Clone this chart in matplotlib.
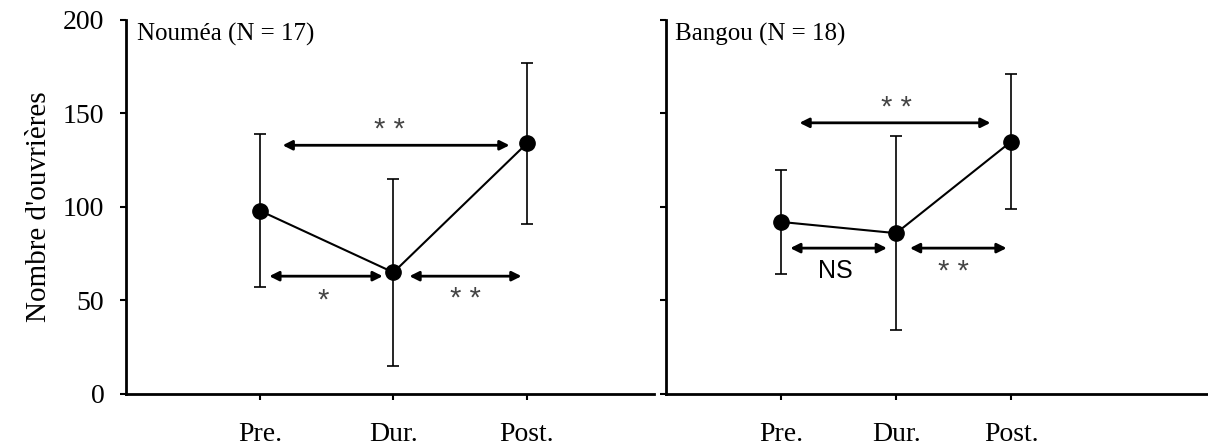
import matplotlib.pyplot as plt

plt.rcParams['font.family'] = ['Liberation Serif', 'DejaVu Serif']

periods = ['Pre.', 'Dur.', 'Post.']

noumea_mean = [98, 65, 134]
noumea_err = [41, 50, 43]
bangou_mean = [92, 86, 135]
bangou_err = [28, 52, 36]

# significance brackets: (x start, x end, y, label, label x, label y)
noumea_tests = [(1.17, 2.87, 133, '* *', 1.97, 141),
                (1.07, 1.92, 63, '*', 1.47, 50),
                (2.12, 2.96, 63, '* *', 2.54, 51)]
bangou_tests = [(1.16, 2.82, 145, '* *', 2.0, 153),
                (1.08, 1.92, 78, 'NS', 1.47, 66),
                (2.12, 2.96, 78, '* *', 2.5, 65)]


def draw_panel(ax, means, errs, tests, title, xmax, show_labels):
    x = [1, 2, 3]
    ax.errorbar(x, means, yerr=errs, fmt='o-', color='black', ms=11,
                lw=1.5, elinewidth=1.2, capsize=4, capthick=1.2, zorder=3)
    for x0, x1, y, lab, lx, ly in tests:
        ax.annotate('', xy=(x1, y), xytext=(x0, y),
                    arrowprops=dict(arrowstyle='<|-|>', color='black', lw=2,
                                    mutation_scale=14, shrinkA=0, shrinkB=0))
        if lab == 'NS':
            ax.text(lx, ly, lab, ha='center', va='center', fontsize=18,
                    family='Liberation Sans')
        else:
            ax.text(lx, ly, lab, ha='center', va='center', fontsize=21,
                    family='Liberation Sans', color='#444444')
    ax.text(0.08, 192, title, fontsize=18, va='center')
    ax.set_xlim(0, xmax)
    ax.set_ylim(0, 200)
    ax.set_xticks(x)
    ax.set_xticklabels(periods)
    ax.set_yticks([0, 50, 100, 150, 200])
    if not show_labels:
        ax.set_yticklabels([])
    ax.spines['top'].set_visible(False)
    ax.spines['right'].set_visible(False)
    ax.spines['left'].set_linewidth(2)
    ax.spines['bottom'].set_linewidth(2)
    ax.tick_params(axis='both', labelsize=20, width=1.5, length=4)
    ax.tick_params(axis='x', pad=16)
    ax.tick_params(axis='y', pad=12)


fig = plt.figure(figsize=(12.08, 4.47), dpi=100)
ax1 = fig.add_axes([0.1047, 0.1186, 0.4364, 0.8367])
ax2 = fig.add_axes([0.5513, 0.1186, 0.4487, 0.8367])

draw_panel(ax1, noumea_mean, noumea_err, noumea_tests, 'Nouméa (N = 17)', 3.95, True)
draw_panel(ax2, bangou_mean, bangou_err, bangou_tests, 'Bangou (N = 18)', 4.71, False)
ax1.set_ylabel("Nombre d'ouvrières", fontsize=21, labelpad=8)

fig.savefig('out.png', dpi=100)
